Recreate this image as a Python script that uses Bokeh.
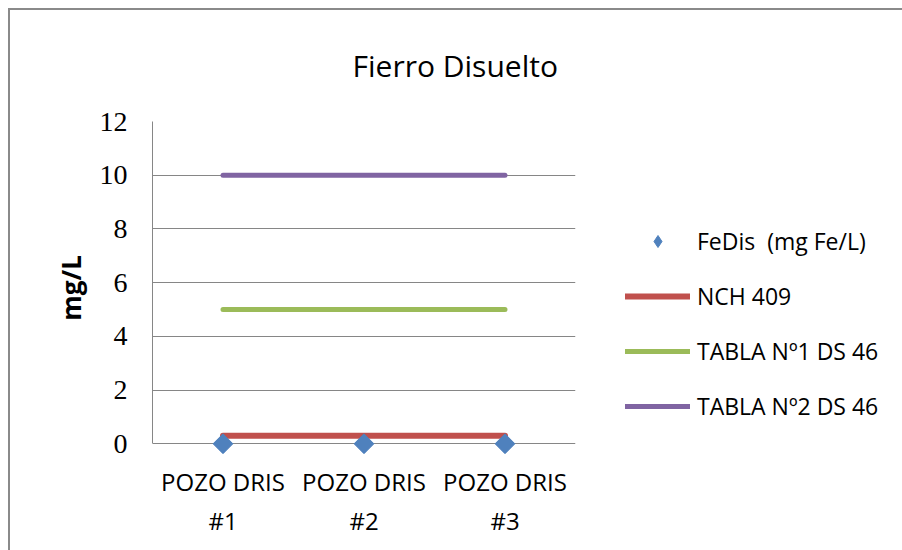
from bokeh.plotting import figure
from bokeh.models import Legend, LegendItem, FixedTicker, Range1d
from bokeh.embed import file_html
from bokeh.resources import INLINE
import math

categories = ["POZO DRIS\n#1", "POZO DRIS\n#2", "POZO DRIS\n#3"]
fedis = [0.0, 0.0, 0.0]
nch409 = [0.3, 0.3, 0.3]
tabla1 = [5, 5, 5]
tabla2 = [10, 10, 10]
y_ticks = [0, 2, 4, 6, 8, 10, 12]
series_names = ["FeDis  (mg Fe/L)", "NCH 409", "TABLA Nº1 DS 46", "TABLA Nº2 DS 46"]

x = [i + 0.5 for i in range(len(categories))]

p = figure(frame_width=423, frame_height=333, output_backend="svg", toolbar_location=None,
           x_range=Range1d(0, len(categories)), y_range=Range1d(-0.4, 12),
           min_border_left=142, min_border_right=0,
           min_border_top=111, min_border_bottom=96,
           title="Fierro Disuelto")
p.styles = {"border-left": "2px solid #8a8a8a", "border-top": "2px solid #8a8a8a",
            "margin-left": "8px", "margin-top": "8px"}

p.title.text_font = "Open Sans"
p.title.text_font_size = "30px"
p.title.text_font_style = "normal"
p.title.text_color = "#000000"
p.title.align = "left"
p.title.offset = 200
p.title.vertical_align = "top"
p.title.standoff = 67

p.outline_line_color = None
p.background_fill_color = "white"
p.border_fill_color = "white"

# grid
p.xgrid.grid_line_color = None
p.ygrid.ticker = FixedTicker(ticks=y_ticks)
p.ygrid.grid_line_color = "#868686"
p.ygrid.grid_line_width = 1

# y axis
p.yaxis.ticker = FixedTicker(ticks=y_ticks)
p.yaxis.bounds = (0, 12)
p.yaxis.axis_line_color = "#868686"
p.yaxis.major_tick_line_color = None
p.yaxis.minor_tick_line_color = None
p.yaxis.major_tick_out = 0
p.yaxis.major_tick_in = 0
p.yaxis.major_label_standoff = 25
p.yaxis.major_label_text_font = "Liberation Serif"
p.yaxis.major_label_text_font_size = "28px"
p.yaxis.major_label_text_color = "#000000"
p.yaxis.axis_label = "mg/L"
p.yaxis.axis_label_text_font = "Open Sans"
p.yaxis.axis_label_text_font_size = "26px"
p.yaxis.axis_label_text_font_style = "bold"
p.yaxis.axis_label_text_color = "#000000"
p.yaxis.axis_label_standoff = 8

# x axis
p.xaxis.ticker = FixedTicker(ticks=x)
p.xaxis.major_label_overrides = {xi: c for xi, c in zip(x, categories)}
p.xaxis.axis_line_color = None
p.xaxis.major_tick_line_color = None
p.xaxis.minor_tick_line_color = None
p.xaxis.major_tick_out = 0
p.xaxis.major_tick_in = 0
p.xaxis.major_label_standoff = 10
p.xaxis.major_label_text_font = "Open Sans"
p.xaxis.major_label_text_font_size = "24px"
p.xaxis.major_label_text_color = "#000000"

# series
r_nch = p.line(x, nch409, line_color="#C0504D", line_width=6, line_cap="round")
r_t1 = p.line(x, tabla1, line_color="#9BBB59", line_width=5, line_cap="round")
r_t2 = p.line(x, tabla2, line_color="#8064A2", line_width=5, line_cap="round")
# diamond used as the legend key (hidden beneath the larger markers below)
r_fe_key = p.scatter(x, fedis, marker="diamond", size=18,
                     fill_color="#4F81BD", line_color="#4F81BD")
r_fe = p.scatter(x, fedis, marker="square", size=14, angle=math.pi / 4,
                 fill_color="#4F81BD", line_color="#4F81BD")

legend = Legend(items=[
    LegendItem(label=series_names[0], renderers=[r_fe_key]),
    LegendItem(label=series_names[1], renderers=[r_nch]),
    LegendItem(label=series_names[2], renderers=[r_t1]),
    LegendItem(label=series_names[3], renderers=[r_t2]),
], location=(50, 32))
legend.border_line_color = None
legend.background_fill_alpha = 0
legend.padding = 0
legend.margin = 0
legend.glyph_width = 65
legend.glyph_height = 30
legend.label_height = 30
legend.spacing = 23
legend.label_standoff = 7
legend.label_text_font = "Open Sans"
legend.label_text_font_size = "23px"
legend.label_text_color = "#000000"
p.add_layout(legend, "right")

open("out.html", "w").write(file_html(p, INLINE))
